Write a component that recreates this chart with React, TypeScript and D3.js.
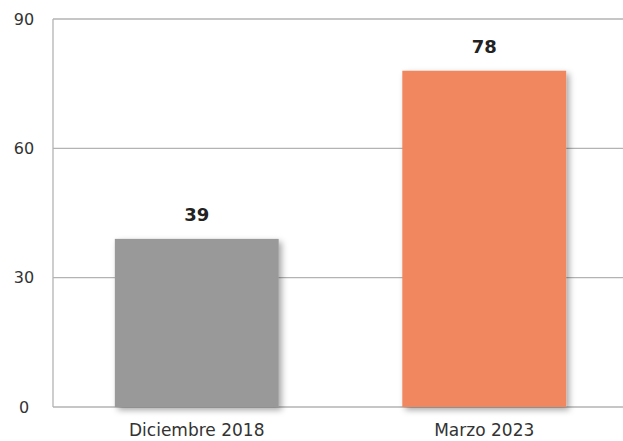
import React from "react";
import * as d3 from "d3";

const categories = ["Diciembre 2018", "Marzo 2023"];
const values = [39, 78];
const barColors = ["#999999", "#F0875E"];
const yTicks = [0, 30, 60, 90];

export default function App() {
  const W = 623, H = 441;
  const left = 53, right = 628, top = 19, bottom = 407;
  const x = d3.scaleBand<string>().domain(categories).range([left, right]).paddingInner(0.43).paddingOuter(0.215);
  const y = d3.scaleLinear().domain([0, 90]).range([bottom, top]);
  const font = "'DejaVu Sans', sans-serif";
  return (
    <svg width={W} height={H} style={{ position: "absolute", left: 0, top: 0 }}>
      <defs>
        <filter id="sh" x="-10%" y="-10%" width="130%" height="130%">
          <feDropShadow dx="3" dy="3" stdDeviation="3" floodColor="#000" floodOpacity="0.35" />
        </filter>
      </defs>
      <rect width={W} height={H} fill="#fff" />
      {yTicks.map((t) => (
        <g key={t}>
          <line x1={left} x2={W} y1={y(t)} y2={y(t)} stroke="#b3b3b3" strokeWidth={1.3} />
          <text x={24} y={y(t)} dy="0.35em" textAnchor="middle" fontFamily={font} fontSize={16} fill="#333">{t}</text>
        </g>
      ))}
      <line x1={left} x2={left} y1={top} y2={bottom} stroke="#b3b3b3" strokeWidth={1.3} />
      {categories.map((c, i) => (
        <g key={c}>
          <rect x={x(c)} y={y(values[i])} width={x.bandwidth()} height={bottom - y(values[i])} fill={barColors[i]} filter="url(#sh)" />
          <text x={x(c)! + x.bandwidth() / 2} y={y(values[i]) - 24} dy="0.35em" textAnchor="middle" fontFamily={font} fontWeight="bold" fontSize={18} fill="#222">{values[i]}</text>
          <text x={x(c)! + x.bandwidth() / 2} y={436} textAnchor="middle" fontFamily={font} fontSize={17} fill="#333">{c}</text>
        </g>
      ))}
    </svg>
  );
}
